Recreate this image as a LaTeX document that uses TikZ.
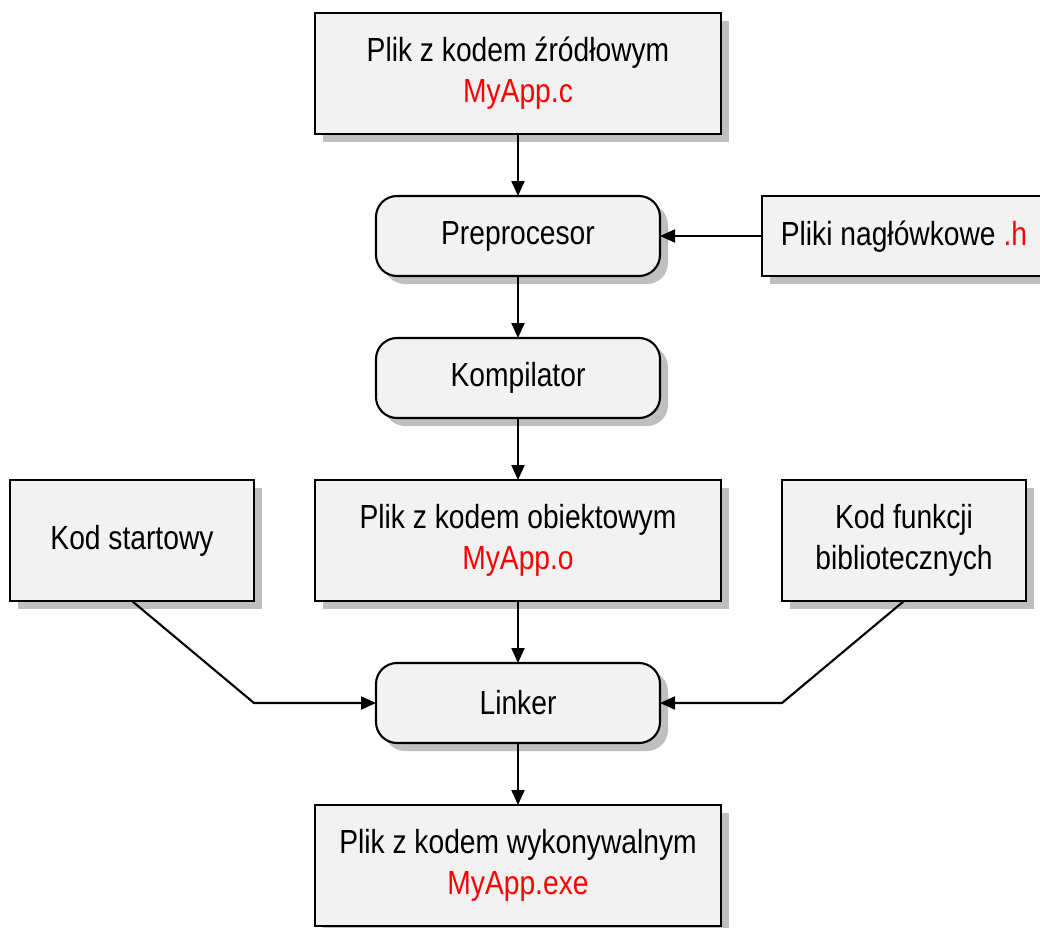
\documentclass[tikz,border=0pt]{standalone}
\usepackage{fontspec}
\setmainfont{Liberation Sans}[FakeStretch=0.845]
\usetikzlibrary{positioning, shadows, arrows.meta}
\tikzset{
	filebox/.style={
		rectangle,
		draw,
		line width=1.2pt,
		align=center,
		outer sep=0pt,
		minimum width=8.12cm,
		minimum height=2.42cm,
		fill=black!5,
		drop shadow={shadow xshift=0.16cm, shadow yshift=-0.16cm, fill=black!25, opacity=1},
	},
	sidebox/.style={
		filebox,
		minimum width=4.88cm,
	},
	stage/.style={
		rectangle,
		draw,
		line width=1.2pt,
		rounded corners=0.42cm,
		outer sep=0pt,
		minimum width=5.68cm,
		minimum height=1.6cm,
		fill=black!5,
		drop shadow={shadow xshift=0.16cm, shadow yshift=-0.16cm, fill=black!25, opacity=1},
	},
	flow/.style={
		line width=1.2pt,
		-{Triangle[length=0.3cm, width=0.26cm]},
	},
}

\begin{document}
\begin{tikzpicture}[node distance=1.24cm, font=\fontsize{19}{23.3}\selectfont]
	\useasboundingbox (0,0) rectangle (20.8,-18.56);
	\node [filebox] (src) at (10.36,-1.47) {Plik z kodem źródłowym\\ \textcolor{red}{MyApp.c}};
	\node [stage, below=of src] (prep) {Preprocesor};
	\node [sidebox, right=2.04cm of prep, minimum width=5.78cm, minimum height=1.6cm, text depth=0.1cm] (hdr) {Pliki nagłówkowe \textcolor{red}{.h}\hspace{0.1cm}};
	\node [stage, below=of prep] (comp) {Kompilator};
	\node [filebox, below=of comp] (obj) {Plik z kodem obiektowym\\ \textcolor{red}{MyApp.o}};
	\node [sidebox, left=1.22cm of obj] (start) {Kod startowy};
	\node [sidebox, right=1.22cm of obj] (lib) {Kod funkcji\\ bibliotecznych};
	\node [stage, below=of obj] (link) {Linker};
	\node [filebox, below=of link] (exe) {Plik z kodem wykonywalnym\\ \textcolor{red}{MyApp.exe}};

	\coordinate (startbend) at (start.east |- link.west);
	\coordinate (libbend) at (lib.west |- link.east);

	\draw [flow] (src) -- (prep);
	\draw [flow] (hdr) -- (prep);
	\draw [flow] (prep) -- (comp);
	\draw [flow] (comp) -- (obj);
	\draw [flow] (obj) -- (link);
	\draw [flow] (start.south) -- (startbend) -- (link.west);
	\draw [flow] (lib.south) -- (libbend) -- (link.east);
	\draw [flow] (link) -- (exe);
\end{tikzpicture}
\end{document}
